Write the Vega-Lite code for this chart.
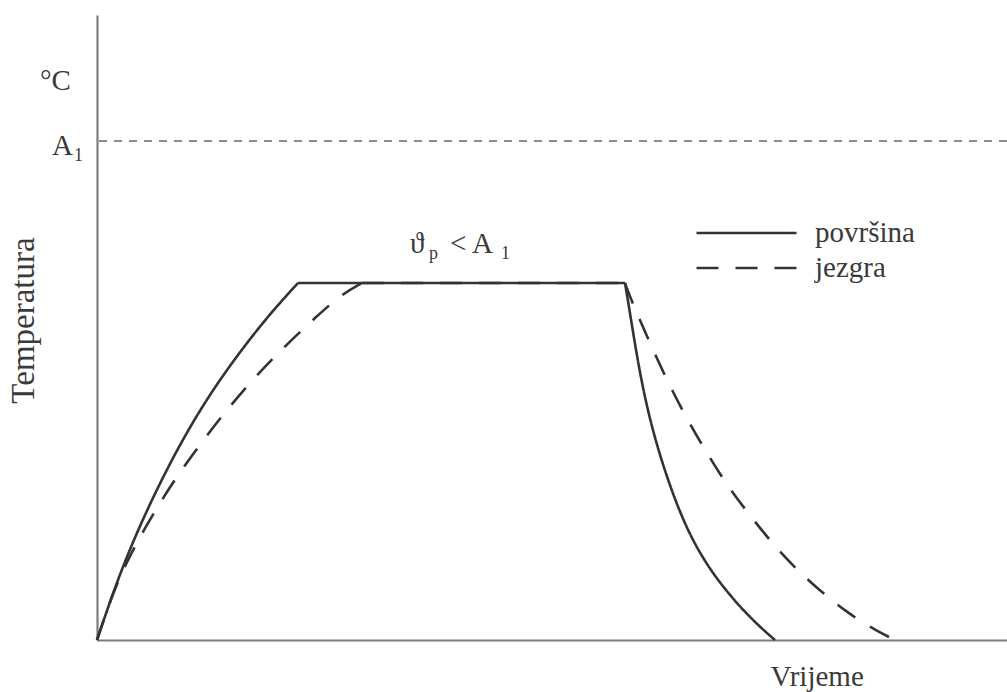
{
  "$schema": "https://vega.github.io/schema/vega-lite/v6.json",
  "width": 910,
  "height": 625,
  "autosize": "none",
  "padding": {"left": 97, "top": 15, "right": 0, "bottom": 52},
  "background": "white",
  "config": {
    "view": {"stroke": null},
    "font": "Liberation Serif",
    "axis": {"grid": false, "ticks": false, "labels": false, "domainColor": "#7d7d7d", "domainWidth": 2.2}
  },
  "datasets": {
    "curves": [
      {"t": 0, "temp": 0, "series": "jezgra", "seg": "heat"},
      {"t": 16, "temp": 48, "series": "jezgra", "seg": "heat"},
      {"t": 33, "temp": 85, "series": "jezgra", "seg": "heat"},
      {"t": 53, "temp": 121, "series": "jezgra", "seg": "heat"},
      {"t": 76, "temp": 158, "series": "jezgra", "seg": "heat"},
      {"t": 101, "temp": 193, "series": "jezgra", "seg": "heat"},
      {"t": 128, "temp": 228, "series": "jezgra", "seg": "heat"},
      {"t": 157, "temp": 262, "series": "jezgra", "seg": "heat"},
      {"t": 188, "temp": 294, "series": "jezgra", "seg": "heat"},
      {"t": 220, "temp": 324, "series": "jezgra", "seg": "heat"},
      {"t": 245, "temp": 346, "series": "jezgra", "seg": "heat"},
      {"t": 265, "temp": 357, "series": "jezgra", "seg": "heat"},
      {"t": 265, "temp": 357, "series": "jezgra", "seg": "plateau"},
      {"t": 528, "temp": 357, "series": "jezgra", "seg": "plateau"},
      {"t": 528, "temp": 357, "series": "jezgra", "seg": "cool"},
      {"t": 531, "temp": 348, "series": "jezgra", "seg": "cool"},
      {"t": 548, "temp": 308, "series": "jezgra", "seg": "cool"},
      {"t": 566, "temp": 268, "series": "jezgra", "seg": "cool"},
      {"t": 586, "temp": 228, "series": "jezgra", "seg": "cool"},
      {"t": 608, "temp": 190, "series": "jezgra", "seg": "cool"},
      {"t": 631, "temp": 153, "series": "jezgra", "seg": "cool"},
      {"t": 658, "temp": 118, "series": "jezgra", "seg": "cool"},
      {"t": 686, "temp": 84, "series": "jezgra", "seg": "cool"},
      {"t": 716, "temp": 55, "series": "jezgra", "seg": "cool"},
      {"t": 753, "temp": 25, "series": "jezgra", "seg": "cool"},
      {"t": 780, "temp": 9, "series": "jezgra", "seg": "cool"},
      {"t": 798, "temp": 0, "series": "jezgra", "seg": "cool"},
      {"t": 0, "temp": 0, "series": "površina", "seg": "heat"},
      {"t": 20, "temp": 59, "series": "površina", "seg": "heat"},
      {"t": 40, "temp": 108, "series": "površina", "seg": "heat"},
      {"t": 60, "temp": 151, "series": "površina", "seg": "heat"},
      {"t": 80, "temp": 190, "series": "površina", "seg": "heat"},
      {"t": 100, "temp": 225, "series": "površina", "seg": "heat"},
      {"t": 120, "temp": 256, "series": "površina", "seg": "heat"},
      {"t": 140, "temp": 284, "series": "površina", "seg": "heat"},
      {"t": 160, "temp": 310, "series": "površina", "seg": "heat"},
      {"t": 180, "temp": 334, "series": "površina", "seg": "heat"},
      {"t": 201, "temp": 357, "series": "površina", "seg": "heat"},
      {"t": 201, "temp": 357, "series": "površina", "seg": "plateau"},
      {"t": 528, "temp": 357, "series": "površina", "seg": "plateau"},
      {"t": 528, "temp": 357, "series": "površina", "seg": "cool"},
      {"t": 533, "temp": 327, "series": "površina", "seg": "cool"},
      {"t": 541, "temp": 277, "series": "površina", "seg": "cool"},
      {"t": 551, "temp": 227, "series": "površina", "seg": "cool"},
      {"t": 565, "temp": 177, "series": "površina", "seg": "cool"},
      {"t": 581, "temp": 132, "series": "površina", "seg": "cool"},
      {"t": 595, "temp": 101, "series": "površina", "seg": "cool"},
      {"t": 609, "temp": 77, "series": "površina", "seg": "cool"},
      {"t": 623, "temp": 57, "series": "površina", "seg": "cool"},
      {"t": 643, "temp": 33, "series": "površina", "seg": "cool"},
      {"t": 663, "temp": 13, "series": "površina", "seg": "cool"},
      {"t": 678, "temp": 0, "series": "površina", "seg": "cool"}
    ],
    "a1": [{"temp": 499}],
    "labels": [
      {"t": -57, "temp": 550, "text": "°C"},
      {"t": -45, "temp": 485, "text": "A"},
      {"t": 313, "temp": 387, "text": "ϑ"},
      {"t": 353, "temp": 387, "text": "< A"}
    ],
    "subs": [
      {"t": -23, "temp": 479, "text": "1"},
      {"t": 332, "temp": 381, "text": "p"},
      {"t": 404, "temp": 381, "text": "1"}
    ]
  },
  "layer": [
    {
      "data": {"name": "a1"},
      "mark": {"type": "rule", "strokeDash": [8, 7], "color": "#8c8c8c", "strokeWidth": 2},
      "encoding": {
        "y": {"field": "temp", "type": "quantitative", "scale": {"domain": [0, 625], "nice": false, "zero": false}}
      }
    },
    {
      "data": {"name": "curves"},
      "mark": {"type": "line", "color": "#333333", "strokeWidth": 2.6, "interpolate": "basis"},
      "encoding": {
        "x": {"field": "t", "type": "quantitative", "scale": {"domain": [0, 910], "nice": false, "zero": false},
              "axis": {"title": "Vrijeme", "titleFont": "Liberation Serif", "titleFontSize": 29, "titleFontWeight": "normal", "titleColor": "#3a3a3a", "titleAnchor": "start", "titleAlign": "left", "titleX": 673, "titleY": 45, "titleBaseline": "alphabetic"}},
        "y": {"field": "temp", "type": "quantitative", "scale": {"domain": [0, 625], "nice": false, "zero": false},
              "axis": {"title": "Temperatura", "titleFont": "Liberation Serif", "titleFontSize": 33, "titleFontWeight": "normal", "titleColor": "#3a3a3a", "titleAngle": 270, "titleAlign": "center", "titleX": -64, "titleY": 305, "titleBaseline": "alphabetic"}},
        "detail": {"field": "seg", "type": "nominal"},
        "strokeDash": {
          "field": "series", "type": "nominal",
          "scale": {"domain": ["površina", "jezgra"], "range": [[1, 0], [22, 17]]},
          "legend": {
            "orient": "none", "legendX": 598, "legendY": 206, "title": null,
            "symbolType": "stroke", "symbolSize": 10000, "symbolStrokeWidth": 2.6, "symbolStrokeColor": "#333333",
            "clipHeight": 24, "rowPadding": 6, "labelOffset": 17,
            "labelFont": "Liberation Serif", "labelFontSize": 29, "labelColor": "#3a3a3a"
          }
        }
      }
    },
    {
      "data": {"name": "labels"},
      "mark": {"type": "text", "align": "left", "baseline": "alphabetic", "font": "Liberation Serif", "fontSize": 29, "color": "#3a3a3a"},
      "encoding": {
        "x": {"field": "t", "type": "quantitative"},
        "y": {"field": "temp", "type": "quantitative"},
        "text": {"field": "text"}
      }
    },
    {
      "data": {"name": "subs"},
      "mark": {"type": "text", "align": "left", "baseline": "alphabetic", "font": "Liberation Serif", "fontSize": 18, "color": "#3a3a3a"},
      "encoding": {
        "x": {"field": "t", "type": "quantitative"},
        "y": {"field": "temp", "type": "quantitative"},
        "text": {"field": "text"}
      }
    }
  ]
}
